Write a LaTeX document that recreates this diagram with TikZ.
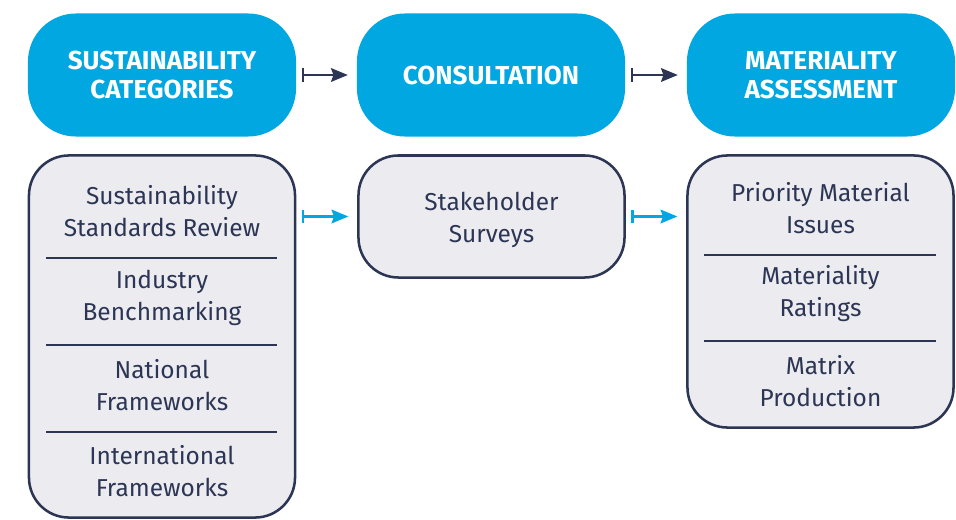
\documentclass[tikz,border=0pt]{standalone}
\usepackage{fontspec}
\setmainfont{Fira Sans}
\usepackage{xcolor}
\definecolor{ciel}{HTML}{00A7E1}
\definecolor{marine}{HTML}{2C3654}
\definecolor{grisclair}{HTML}{EBEBF0}
\usetikzlibrary{positioning,arrows.meta,calc}

\begin{document}
\begin{tikzpicture}[x=0.025cm,y=-0.025cm,
  titre/.style={fill=ciel,rounded corners=1.2cm,minimum width=6.7cm,minimum height=3.075cm,font=\fontsize{18.5}{20.8}\selectfont\bfseries,text=white,align=center},
  boite/.style={draw=marine,fill=grisclair,line width=1.8pt,rounded corners=1cm,minimum width=6.65cm},
  item/.style={font=\fontsize{17.4}{22.7}\selectfont,text=marine,align=center},
  sep/.style={marine,line width=0.8pt},
  fl/.style={{Bar[width=3.4mm]}-{Stealth[length=4.2mm,width=3.4mm,inset=0.6mm]},line width=1.9pt,shorten <=0.13cm,shorten >=0.22cm}
]
\useasboundingbox (0,0) rectangle (956,520);
% en-tetes
\node[titre] (h1) at (162,75) {SUSTAINABILITY\\CATEGORIES};
\node[titre] (h2) at (491,75) {CONSULTATION};
\node[titre] (h3) at (821,75) {MATERIALITY\\ASSESSMENT};
% boites du dessous
\node[boite,minimum height=9.05cm] (b1) at (162,336.5) {};
\node[boite,minimum height=3.05cm] (b2) at (491.5,216.5) {};
\node[boite,minimum height=6.8cm] (b3) at (820.5,291.5) {};
% contenu
\node[item] (s1) at (162,211) {Sustainability\\Standards Review};
\node[item] (s2) at (162,298) {Industry\\Benchmarking};
\node[item] (s3) at (162,385) {National\\Frameworks};
\node[item] (s4) at (162,471) {International\\Frameworks};
\node[item] (c1) at (491.5,220) {Stakeholder\\Surveys};
\node[item] (m1) at (820.5,208) {Priority Material\\Issues};
\node[item] (m2) at (820.5,294) {Materiality\\Ratings};
\node[item] (m3) at (820.5,381) {Matrix\\Production};
% separateurs
\draw[sep] (46,258) -- (277,258);
\draw[sep] (46,345) -- (277,345);
\draw[sep] (46,432) -- (277,432);
\draw[sep] (704,255) -- (936,255);
\draw[sep] (704,341) -- (936,341);
% fleches
\draw[fl,marine] (h1) -- (h2); \draw[fl,marine] (h2) -- (h3);
\draw[fl,ciel] (b1.east |- b2.west) -- (b2.west);
\draw[fl,ciel] (b2.east) -- (b3.west |- b2.east);
\end{tikzpicture}
\end{document}
